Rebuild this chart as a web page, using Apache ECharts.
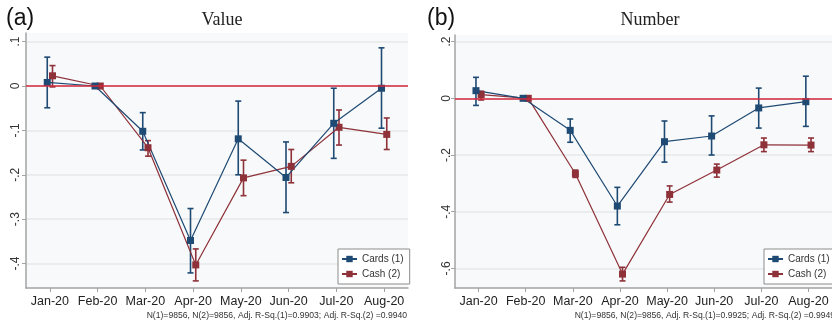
<!DOCTYPE html>
<html>
<head>
<meta charset="utf-8">
<script src="https://cdn.jsdelivr.net/npm/echarts@6/dist/echarts.min.js"></script>
<style>
  html, body { margin: 0; padding: 0; background: #ffffff; }
  #chart { width: 832px; height: 325px; }
</style>
</head>
<body>
<div id="chart"></div>
<script>
// Monthly coefficients relative to Feb-20 (reference month, no interval)
const months = ['Jan-20', 'Feb-20', 'Mar-20', 'Apr-20', 'May-20', 'Jun-20', 'Jul-20', 'Aug-20'];

// (a) Value
const valueCards   = [0.008, 0, -0.102, -0.348, -0.119, -0.206, -0.084, -0.005];
const valueCardsLo = [-0.049, null, -0.144, -0.421, -0.200, -0.285, -0.163, -0.095];
const valueCardsHi = [0.065, null, -0.060, -0.276, -0.034, -0.126, -0.005, 0.086];
const valueCash    = [0.023, 0, -0.139, -0.403, -0.207, -0.181, -0.093, -0.109];
const valueCashLo  = [-0.002, null, -0.158, -0.439, -0.247, -0.218, -0.133, -0.143];
const valueCashHi  = [0.046, null, -0.123, -0.367, -0.167, -0.143, -0.054, -0.072];

// (b) Number
const numberCards   = [0.027, 0, -0.113, -0.380, -0.153, -0.133, -0.034, -0.012];
const numberCardsLo = [-0.025, null, -0.155, -0.446, -0.225, -0.200, -0.105, -0.099];
const numberCardsHi = [0.074, null, -0.073, -0.314, -0.080, -0.062, 0.036, 0.078];
const numberCash    = [0.013, 0, -0.266, -0.620, -0.339, -0.253, -0.164, -0.165];
const numberCashLo  = [-0.006, null, -0.279, -0.644, -0.366, -0.278, -0.188, -0.188];
const numberCashHi  = [0.025, null, -0.253, -0.596, -0.309, -0.232, -0.140, -0.140];

// Axis ticks and their Stata-style labels
const yTicksA = [-0.4, -0.3, -0.2, -0.1, 0, 0.1];
const yLabelsA = ['-.4', '-.3', '-.2', '-.1', '0', '.1'];
const yTicksB = [-0.6, -0.4, -0.2, 0, 0.2];
const yLabelsB = ['-.6', '-.4', '-.2', '0', '.2'];

const seriesNames = ['Cards (1)', 'Cash (2)'];
const noteA = 'N(1)=9856, N(2)=9856, Adj. R-Sq.(1)=0.9903; Adj. R-Sq.(2) =0.9940';
const noteB = 'N(1)=9856, N(2)=9856, Adj. R-Sq.(1)=0.9925; Adj. R-Sq.(2) =0.9949';

const NAVY = '#1e4a74';
const MAROON = '#8e3139';
const ZERO_RED = '#d3293c';
const AXIS_GRAY = '#a3a3a3';
const SANS = 'Liberation Sans, Arial, sans-serif';

// Series are nudged apart slightly around each month position
const SHIFT = 0.055;

const monthTicks = months.map((m, i) => i + 1);

function points(vals, shift) {
  return vals.map((v, i) => [i + 1 + shift, v]);
}
function intervals(lo, hi, shift) {
  const out = [];
  lo.forEach((l, i) => { if (l !== null) out.push([i + 1 + shift, l, hi[i]]); });
  return out;
}
function lookupLabel(ticks, labels) {
  return function (v) {
    for (let i = 0; i < ticks.length; i++) {
      if (Math.abs(ticks[i] - v) < 1e-6) return labels[i];
    }
    return '';
  };
}

function errorBarRenderer(color) {
  return function (params, api) {
    const x = api.value(0);
    const top = api.coord([x, api.value(2)]);
    const bot = api.coord([x, api.value(1)]);
    const hw = 3;
    const st = { stroke: color, lineWidth: 1.6 };
    return {
      type: 'group',
      children: [
        { type: 'line', shape: { x1: top[0], y1: top[1], x2: bot[0], y2: bot[1] }, style: st },
        { type: 'line', shape: { x1: top[0] - hw, y1: top[1], x2: top[0] + hw, y2: top[1] }, style: st },
        { type: 'line', shape: { x1: bot[0] - hw, y1: bot[1], x2: bot[0] + hw, y2: bot[1] }, style: st }
      ]
    };
  };
}

function xAxisFor(gridIndex) {
  return {
    type: 'value', gridIndex: gridIndex, min: 0.5, max: 8.5,
    axisLine: { show: true, onZero: false, lineStyle: { color: AXIS_GRAY, width: 1.5 } },
    axisTick: { show: true, length: 4, customValues: monthTicks, lineStyle: { color: AXIS_GRAY, width: 1 } },
    axisLabel: {
      customValues: monthTicks, margin: 7,
      formatter: v => months[Math.round(v) - 1] || '',
      fontFamily: SANS, fontSize: 12.5, color: '#222'
    },
    splitLine: { show: false }
  };
}

function yAxisFor(gridIndex, min, max, ticks, labels, margin) {
  return {
    type: 'value', gridIndex: gridIndex, min: min, max: max,
    axisLine: { show: true, onZero: false, lineStyle: { color: AXIS_GRAY, width: 1.5 } },
    axisTick: { show: true, length: 4, customValues: ticks, lineStyle: { color: AXIS_GRAY, width: 1 } },
    axisLabel: {
      customValues: ticks, rotate: 90, margin: margin,
      formatter: lookupLabel(ticks, labels),
      fontFamily: SANS, fontSize: 12, color: '#333'
    },
    splitLine: { show: true, lineStyle: { color: '#e6e7e8', width: 1.5 } }
  };
}

function panelSeries(idx, cards, cardsLo, cardsHi, cash, cashLo, cashHi) {
  const lineCommon = {
    type: 'line', xAxisIndex: idx, yAxisIndex: idx,
    symbol: 'rect', symbolSize: 7, showSymbol: true,
    animation: false, z: 4
  };
  return [
    {
      type: 'custom', name: 'ci-cash-' + idx, xAxisIndex: idx, yAxisIndex: idx,
      renderItem: errorBarRenderer(MAROON),
      encode: { x: 0, y: [1, 2] },
      data: intervals(cashLo, cashHi, SHIFT), z: 3, animation: false, silent: true,
      markLine: {
        silent: true, symbol: 'none', animation: false,
        label: { show: false },
        lineStyle: { color: ZERO_RED, width: 1.5, type: 'solid' },
        data: [{ yAxis: 0 }]
      }
    },
    {
      type: 'custom', name: 'ci-cards-' + idx, xAxisIndex: idx, yAxisIndex: idx,
      renderItem: errorBarRenderer(NAVY),
      encode: { x: 0, y: [1, 2] },
      data: intervals(cardsLo, cardsHi, -SHIFT), z: 3, animation: false, silent: true
    },
    Object.assign({}, lineCommon, {
      name: seriesNames[1],
      data: points(cash, SHIFT),
      itemStyle: { color: MAROON },
      lineStyle: { color: MAROON, width: 1.2 }
    }),
    Object.assign({}, lineCommon, {
      name: seriesNames[0],
      data: points(cards, -SHIFT),
      itemStyle: { color: NAVY },
      lineStyle: { color: NAVY, width: 1.2 }
    })
  ];
}

function legendAt(left, top, padRight) {
  return {
    data: seriesNames, orient: 'vertical', left: left, top: top,
    backgroundColor: '#ffffff', borderColor: '#8c8c8c', borderWidth: 1,
    padding: [4, padRight, 4, 3], itemGap: 3, itemWidth: 15, itemHeight: 8,
    selectedMode: false,
    textStyle: { fontFamily: SANS, fontSize: 10, color: '#333', lineHeight: 12 }
  };
}

const chart = echarts.init(document.getElementById('chart'), null, { renderer: 'canvas' });

chart.setOption({
  animation: false,
  backgroundColor: '#ffffff',
  grid: [
    { left: 26, top: 33, width: 382, height: 255, show: true, backgroundColor: '#f8f9fa', borderWidth: 0 },
    { left: 455, top: 35, width: 381, height: 253, show: true, backgroundColor: '#f8f9fa', borderWidth: 0 }
  ],
  xAxis: [xAxisFor(0), xAxisFor(1)],
  yAxis: [
    yAxisFor(0, -0.455, 0.1194, yTicksA, yLabelsA, 4),
    yAxisFor(1, -0.669, 0.2233, yTicksB, yLabelsB, 2)
  ],
  legend: [legendAt(338, 249, 6), legendAt(764, 249, 20)],
  series: []
    .concat(panelSeries(0, valueCards, valueCardsLo, valueCardsHi, valueCash, valueCashLo, valueCashHi))
    .concat(panelSeries(1, numberCards, numberCardsLo, numberCardsHi, numberCash, numberCashLo, numberCashHi)),
  graphic: [
    { type: 'text', left: 6, top: 7, style: { text: '(a)', font: '23px ' + SANS, fill: '#111' } },
    { type: 'text', left: 427, top: 7, style: { text: '(b)', font: '23px ' + SANS, fill: '#111' } },
    { type: 'text', x: 222, y: 20, style: { text: 'Value', font: '18px "Liberation Serif", serif', fill: '#222', align: 'center', verticalAlign: 'middle' } },
    { type: 'text', x: 650, y: 20, style: { text: 'Number', font: '18px "Liberation Serif", serif', fill: '#222', align: 'center', verticalAlign: 'middle' } },
    { type: 'text', x: 407, y: 316, style: { text: noteA, font: '8.6px ' + SANS, fill: '#333', align: 'right', verticalAlign: 'middle' } },
    { type: 'text', x: 835, y: 316, style: { text: noteB, font: '8.6px ' + SANS, fill: '#333', align: 'right', verticalAlign: 'middle' } }
  ]
});
</script>
</body>
</html>
